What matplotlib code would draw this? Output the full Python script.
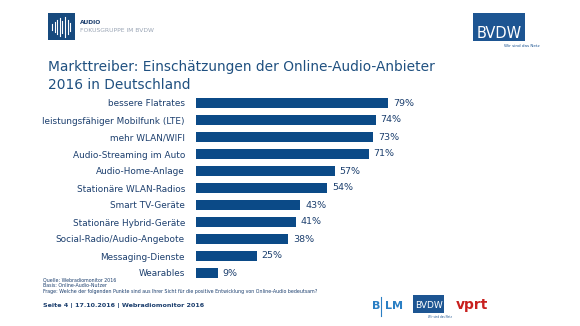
import matplotlib.pyplot as plt
from matplotlib.patches import Rectangle

# Daten
kategorien = ['bessere Flatrates', 'leistungsfähiger Mobilfunk (LTE)', 'mehr WLAN/WIFI',
              'Audio-Streaming im Auto', 'Audio-Home-Anlage', 'Stationäre WLAN-Radios',
              'Smart TV-Geräte', 'Stationäre Hybrid-Geräte', 'Social-Radio/Audio-Angebote',
              'Messaging-Dienste', 'Wearables']
werte = [79, 74, 73, 71, 57, 54, 43, 41, 38, 25, 9]

blau = '#0b4a87'
text_blau = '#1c3f6e'
W, H = 580, 326

def fx(x):
    return x / W

def fy(y):
    return 1 - y / H

fig = plt.figure(figsize=(5.8, 3.26), dpi=100)
fig.patch.set_facecolor('white')

# Balkendiagramm
ax = fig.add_axes([fx(196), fy(281.5), 243 / W, 187 / H])
pos = list(range(len(werte)))
ax.barh(pos, werte, height=0.6, color=blau)
ax.set_xlim(0, 100)
ax.set_ylim(len(werte) - 0.5, -0.5)
ax.set_yticks(pos)
ax.set_yticklabels(kategorien, fontsize=6.4, color=text_blau)
ax.tick_params(axis='y', length=0, pad=8)
ax.set_xticks([])
for s in ax.spines.values():
    s.set_visible(False)
for p, v in zip(pos, werte):
    ax.text(v + 2, p, f'{v}%', va='center', ha='left', fontsize=6.8, color=text_blau)

# Titel
fig.text(fx(48), fy(67), 'Markttreiber: Einschätzungen der Online-Audio-Anbieter',
         fontsize=9.9, color='#1f5080', va='center', ha='left')
fig.text(fx(48), fy(85), '2016 in Deutschland',
         fontsize=9.9, color='#1f5080', va='center', ha='left')

# Logo oben links
fig.patches.append(Rectangle((fx(48), fy(40)), 27 / W, 27 / H, transform=fig.transFigure,
                             facecolor='#174a7e', edgecolor='none'))
hoehen = [6, 10, 14, 18, 12, 20, 14, 8]
for i, h in enumerate(hoehen):
    x = fx(52 + i * 2.6)
    fig.add_artist(plt.Line2D([x, x], [fy(26.5 + h / 2), fy(26.5 - h / 2)],
                              transform=fig.transFigure, color='white', lw=0.8))
fig.text(fx(80), fy(23), 'AUDIO', fontsize=4.3, fontweight='bold', color='#1c3f6e', va='center')
fig.text(fx(80), fy(30.5), 'FOKUSGRUPPE IM BVDW', fontsize=4.3, color='#9aa5b5', va='center')

# BVDW Logo oben rechts
fig.patches.append(Rectangle((fx(473), fy(41)), 52 / W, 28 / H, transform=fig.transFigure,
                             facecolor='#1d5592', edgecolor='none'))
fig.text(fx(499), fy(33), 'BVDW', fontsize=10.5, color='white', ha='center', va='center')
fig.text(fx(540), fy(46), 'Wir sind das Netz', fontsize=3, color='#1d5592', ha='right', va='center')

# Fußnoten
fig.text(fx(43), fy(280), 'Quelle: Webradiomonitor 2016', fontsize=3.4, color='#1c3f6e', va='center')
fig.text(fx(43), fy(285.5), 'Basis: Online-Audio-Nutzer', fontsize=3.4, color='#1c3f6e', va='center')
fig.text(fx(43), fy(291), 'Frage: Welche der folgenden Punkte sind aus Ihrer Sicht für die positive '
         'Entwicklung von Online-Audio bedeutsam?', fontsize=3.4, color='#1c3f6e', va='center')
fig.text(fx(43), fy(305.5), 'Seite 4 | 17.10.2016 | Webradiomonitor 2016', fontsize=4.6,
         fontweight='bold', color='#1c3f6e', va='center')

# Logos unten
fig.text(fx(372), fy(306), 'B', fontsize=8, color='#2a7fc4', va='center', fontweight='bold')
fig.add_artist(plt.Line2D([fx(381), fx(381)], [fy(297), fy(316)], transform=fig.transFigure,
                          color='#2a7fc4', lw=0.8))
fig.text(fx(385), fy(306), 'LM', fontsize=8, color='#2a7fc4', va='center', fontweight='bold')
fig.patches.append(Rectangle((fx(413), fy(313)), 31 / W, 18 / H, transform=fig.transFigure,
                             facecolor='#1d5592', edgecolor='none'))
fig.text(fx(428.5), fy(306), 'BVDW', fontsize=6.5, color='white', ha='center', va='center')
fig.text(fx(452), fy(317), 'Wir sind das Netz', fontsize=2, color='#1d5592', ha='right', va='center')
fig.text(fx(472), fy(305), 'vprt', fontsize=10, color='#c8201e', ha='center', va='center',
         fontweight='bold')

fig.savefig('out.png', dpi=100, facecolor='white')
